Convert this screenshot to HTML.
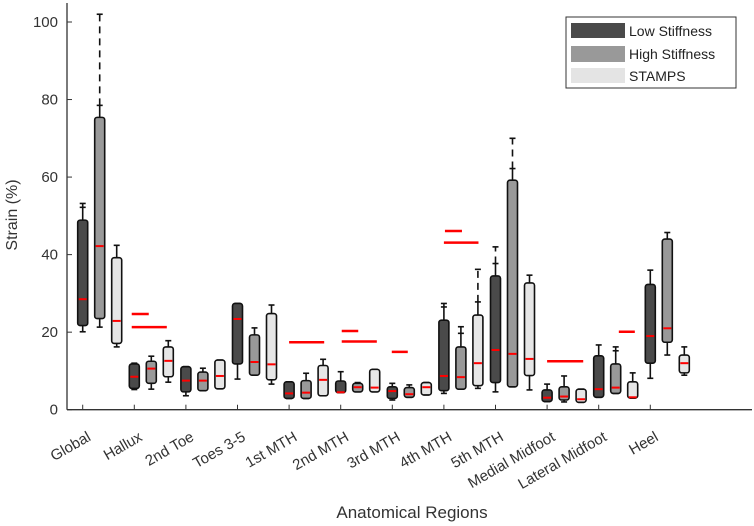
<!DOCTYPE html>
<html><head><meta charset="utf-8"><style>
body{margin:0;background:#fff;}
svg{display:block;font-family:"Liberation Sans",Arial,sans-serif;}
</style></head><body>
<svg id="chart" width="754" height="526" viewBox="0 0 754 526" xmlns="http://www.w3.org/2000/svg">
<g id="plot"></g>
<g id="legend">
  <rect x="566" y="17" width="170" height="71" fill="#fff" stroke="#333" stroke-width="1"/>
  <rect x="571" y="23" width="54" height="15" fill="#4a4a4a"/>
  <text x="629" y="36" font-size="14" fill="#222">Low Stiffness</text>
  <rect x="571" y="46" width="54" height="16" fill="#999"/>
  <text x="629" y="59" font-size="14" fill="#222">High Stiffness</text>
  <rect x="571" y="68" width="54" height="15" fill="#e4e4e4"/>
  <text x="629" y="81" font-size="14" fill="#222">STAMPS</text>
</g>
<text transform="translate(17,215) rotate(-90)" text-anchor="middle" font-size="16" fill="#333">Strain (%)</text>
<text x="412" y="518" text-anchor="middle" font-size="17" fill="#333">Anatomical Regions</text>
</svg>
<script>
const categories=["Global","Hallux","2nd Toe","Toes 3-5","1st MTH","2nd MTH","3rd MTH","4th MTH","5th MTH","Medial Midfoot","Lateral Midfoot","Heel"];
const yTicks=[0,20,40,60,80,100];
// each entry: [lo, q1, median, q3, hi, ext(dashed top or null)]
const lowStiffness=[[20.1,21.7,28.5,48.9,52.2,53.2],[5.2,5.5,8.5,11.8,12,null],[3.6,4.6,7.5,11.1,11.1,null],[7.9,11.8,23.4,27.4,27.4,null],[2.9,2.9,4.2,7.2,7.2,null],[4.4,4.4,4.5,7.4,9.8,null],[2.5,2.9,4.8,5.9,6.8,null],[4.2,4.9,8.7,23.1,26.5,27.4],[4.6,7.0,15.4,34.5,37.7,42.0],[2.1,2.1,3.1,5.1,6.6,null],[3.2,3.2,5.3,13.9,16.7,null],[8.1,12.0,19.0,32.3,36.0,null]];
const highStiffness=[[21.3,23.5,42.2,75.4,78.5,102],[5.3,6.8,10.6,12.5,13.8,null],[4.9,4.9,7.5,9.7,10.7,null],[8.9,8.9,12.3,19.3,21.1,null],[2.9,2.9,4.4,7.5,9.4,null],[4.6,4.6,5.8,6.8,7.0,null],[3.2,3.2,4.0,5.7,6.4,null],[5.3,5.3,8.4,16.2,19.7,21.4],[5.9,5.9,14.4,59.2,62.2,70.0],[2.0,2.5,3.4,5.9,8.7,null],[4.2,4.2,5.7,11.8,15.2,16.2],[14.1,17.4,21.0,44.0,45.7,null]];
const stamps=[[16.2,17.1,22.9,39.2,42.4,null],[7.1,8.5,12.6,16.2,17.8,null],[5.4,5.4,8.7,12.8,12.8,null],[6.6,7.7,11.7,24.8,27.0,null],[3.6,3.6,7.7,11.4,13.0,null],[4.6,4.6,5.7,10.4,10.4,null],[3.8,3.8,5.8,7.0,7.0,null],[5.5,6.2,12.0,24.4,27.8,36.2],[5.1,8.8,13.1,32.7,34.7,null],[1.9,1.9,2.7,5.3,5.3,null],[3.0,3.0,3.2,7.2,9.5,null],[8.9,9.5,12.0,14.1,16.2,null]];
// reference lines: category index, value, start offset, end offset (category units)
const refCat=[1,1,4,5,5,6,7,7,9,10];
const refVal=[24.7,21.3,17.4,20.3,17.6,14.9,46.1,43.1,12.5,20.1];
const refFrom=[-0.05,-0.05,0,0.02,0.02,-0.01,0.02,0,0,0.39];
const refTo=[0.28,0.63,0.68,0.34,0.7,0.3,0.35,0.67,0.7,0.7];

const NS="http://www.w3.org/2000/svg";
const g=document.getElementById('plot');
const X0=82.7, DX=51.6, AX=67, AY=409.7, PPU=3.877;
const y=v=>AY-v*PPU;
const x=i=>X0+i*DX;
function mk(t,a){const e=document.createElementNS(NS,t);for(const k in a)e.setAttribute(k,a[k]);g.appendChild(e);return e;}
let ax=mk('line',{x1:AX,y1:AY,x2:752,y2:AY,stroke:'#333','stroke-width':1.3});


let ay=mk('line',{x1:AX,y1:3,x2:AX,y2:AY,stroke:'#333','stroke-width':1.3});


yTicks.forEach(t=>{
  let l=mk('line',{x1:AX,y1:y(t),x2:AX+5,y2:y(t),stroke:'#333','stroke-width':1});
  
  
  let tx=mk('text',{x:58,y:y(t)+5,'text-anchor':'end','font-size':15,fill:'#333'});
  tx.textContent=t;
  
  
});
categories.forEach((c,i)=>{
  let l=mk('line',{x1:x(i),y1:AY,x2:x(i),y2:AY-5,stroke:'#333','stroke-width':1});
  
  
  let tx=mk('text',{transform:`translate(${x(i)+9},${AY+30}) rotate(-30)`,'text-anchor':'end','font-size':15,fill:'#333'});
  tx.textContent=c;
  
  
});
const series=[[lowStiffness,'#4a4a4a',0,'low'],[highStiffness,'#999',17,'high'],[stamps,'#e6e6e6',34,'stamps']];
series.forEach(([data,col,off,nm])=>{
  data.forEach((d,i)=>{
    const cx=x(i)+off,w=10;
    const [lo,q1,md,q3,hi,ext]=d;
    if(ext!==null){
      let de=mk('line',{x1:cx,y1:y(hi),x2:cx,y2:y(ext),stroke:'#111','stroke-width':1.6,'stroke-dasharray':'7,5'});
      
      
      let dc=mk('line',{x1:cx-3,y1:y(ext),x2:cx+3,y2:y(ext),stroke:'#111','stroke-width':1.6});
      
      
    }
    let wh=mk('line',{x1:cx,y1:y(lo),x2:cx,y2:y(hi),stroke:'#111','stroke-width':1.6});
    
    
    [lo,hi].forEach(v=>{
      let cp=mk('line',{x1:cx-3,y1:y(v),x2:cx+3,y2:y(v),stroke:'#111','stroke-width':1.6});
      
      
    });
    let b=mk('rect',{x:cx-w/2,y:y(q3),width:w,height:Math.max(2,y(q1)-y(q3)),rx:2.5,fill:col,stroke:'#111','stroke-width':1.6});
    
    
    let m=mk('line',{x1:cx-w/2+1,y1:y(md),x2:cx+w/2-1,y2:y(md),stroke:'#f00','stroke-width':2});
    
    
  });
});
refCat.forEach((c,k)=>{
  let l=mk('line',{x1:x(c)+refFrom[k]*DX,y1:y(refVal[k]),x2:x(c)+refTo[k]*DX,y2:y(refVal[k]),stroke:'#f00','stroke-width':2.5});
  
  
});
</script>
</body></html>
